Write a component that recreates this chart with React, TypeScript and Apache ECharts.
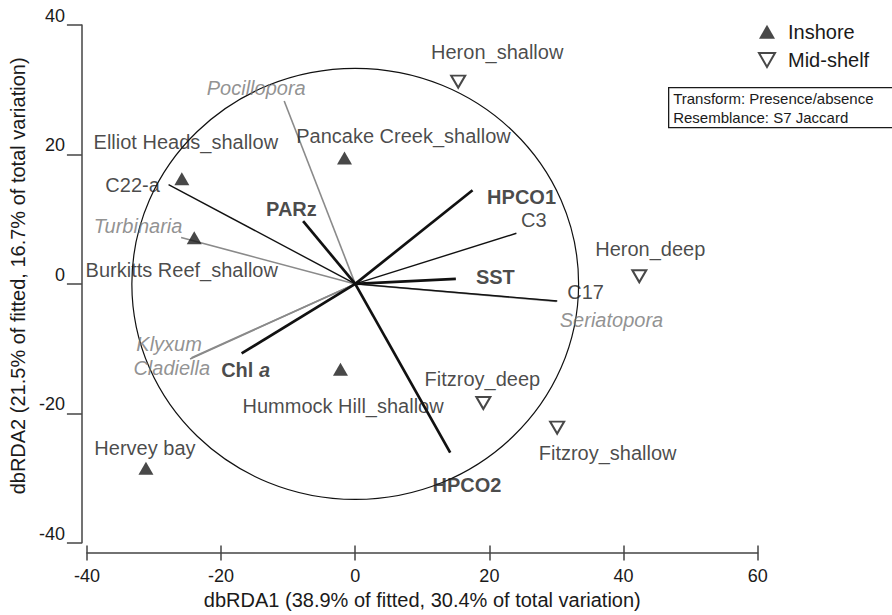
import React, { useEffect, useRef } from "react";
import * as echarts from "echarts";

// ---- axis ----
const X_MIN = -40;
const X_MAX = 60;
const Y_MIN = -40;
const Y_MAX = 40;
const TICK_STEP = 20;
const X_TITLE = "dbRDA1 (38.9% of fitted, 30.4% of total variation)";
const Y_TITLE = "dbRDA2 (21.5% of fitted, 16.7% of total variation)";

// ---- sites ----
const inshoreNames = [
  "Elliot Heads_shallow",
  "Burkitts Reef_shallow",
  "Pancake Creek_shallow",
  "Hummock Hill_shallow",
  "Hervey bay",
];
const inshoreX = [-25.85, -24.0, -1.6, -2.2, -31.2];
const inshoreY = [16.26, 7.14, 19.45, -13.2, -28.5];

const midshelfNames = ["Heron_shallow", "Heron_deep", "Fitzroy_deep", "Fitzroy_shallow"];
const midshelfX = [15.35, 42.35, 19.1, 30.1];
const midshelfY = [31.26, 1.18, -18.4, -22.2];

// ---- vectors (environmental predictors) ----
const predictorNames = ["PARz", "HPCO1", "SST", "HPCO2", "Chl a"];
const predictorX = [-7.77, 17.49, 15.0, 14.16, -16.94];
const predictorY = [9.71, 14.46, 0.77, -26.07, -10.74];

// ---- vectors (symbiont types) ----
const otuNames = ["C22-a", "C3", "C17"];
const otuX = [-27.83, 24.03, 30.12];
const otuY = [15.34, 7.82, -2.65];

// ---- vectors (host taxa) ----
const taxonNames = ["Pocillopora", "Turbinaria", "Klyxum", "Cladiella", "Seriatopora"];
const taxonX = [-10.59, -25.96, -24.62, -24.4, 30.0];
const taxonY = [28.27, 7.16, -11.61, -11.4, -2.7];

// correlation circle radius (data units)
const circleRadius = 33.3;

const legendNames = ["Inshore", "Mid-shelf"];
const boxLines = ["Transform: Presence/absence", "Resemblance: S7 Jaccard"];

// label placement (pixels, relative to the mark)
const siteLabelOffsets: Record<string, [number, number]> = {
  "Elliot Heads_shallow": [4, -37],
  "Burkitts Reef_shallow": [-12.5, 32],
  "Pancake Creek_shallow": [59, -22.5],
  "Hummock Hill_shallow": [2.6, 37],
  "Hervey bay": [-1, -20],
  Heron_shallow: [39, -30],
  Heron_deep: [11, -27],
  Fitzroy_deep: [-1, -24],
  Fitzroy_shallow: [50.5, 25.3],
};
const vectorLabelOffsets: Record<string, [number, number]> = {
  "C22-a": [-36, 0.7],
  Turbinaria: [-43, -12],
  Pocillopora: [-28, -12.7],
  PARz: [-11.7, -12.4],
  HPCO1: [49, 6.6],
  C3: [17.3, -13],
  SST: [39.5, -1.7],
  C17: [28.3, -9.3],
  Seriatopora: [55, 18.7],
  HPCO2: [16.7, 32.3],
  Klyxum: [-21, -15.4],
  Cladiella: [-19.8, 10],
  "Chl a": [4, 17],
};

const FONT = "'Liberation Sans', Arial, sans-serif";
const INK = "#1a1a1a";
const GREY = "#767676";

function zip(names: string[], xs: number[], ys: number[]) {
  return names.map((n, i) => [xs[i], ys[i], n]);
}

function vectorSeries(names: string[], xs: number[], ys: number[], color: string, width: number) {
  return {
    type: "custom",
    silent: true,
    clip: false,
    encode: { x: 0, y: 1 },
    data: zip(names, xs, ys),
    renderItem: (_params: any, api: any) => {
      const p0 = api.coord([0, 0]);
      const p1 = api.coord([api.value(0), api.value(1)]);
      return {
        type: "line",
        shape: { x1: p0[0], y1: p0[1], x2: p1[0], y2: p1[1] },
        style: { stroke: color, lineWidth: width },
      };
    },
    z: 3,
  };
}

function vectorLabelSeries(
  names: string[],
  xs: number[],
  ys: number[],
  color: string,
  weight: string,
  style: string
) {
  return {
    type: "scatter",
    silent: true,
    symbolSize: 0.1,
    itemStyle: { color: "transparent" },
    data: names.map((n, i) => ({
      name: n,
      value: [xs[i], ys[i]],
      label: { offset: vectorLabelOffsets[n] },
    })),
    label: {
      show: true,
      position: "inside",
      align: "center",
      verticalAlign: "middle",
      color,
      textBorderWidth: 0,
      fontSize: 20,
      fontWeight: weight,
      fontStyle: style,
      fontFamily: FONT,
      formatter: (p: any) => (p.name === "Chl a" ? "{n|Chl} {i|a}" : p.name),
      rich: {
        n: { fontSize: 20, fontWeight: "bold", fontFamily: FONT, color, textBorderWidth: 0 },
        i: {
          fontSize: 20,
          fontWeight: "bold",
          fontStyle: "italic",
          fontFamily: FONT,
          color,
          textBorderWidth: 0,
        },
      },
    },
    z: 6,
  };
}

function siteSeries(name: string, names: string[], xs: number[], ys: number[], open: boolean) {
  return {
    name,
    type: "scatter",
    silent: true,
    symbol: "triangle",
    symbolRotate: open ? 180 : 0,
    symbolSize: open ? [14, 12] : [15, 13],
    itemStyle: open
      ? { color: "#ffffff", borderColor: INK, borderWidth: 2 }
      : { color: INK },
    data: names.map((n, i) => ({
      name: n,
      value: [xs[i], ys[i]],
      label: { offset: siteLabelOffsets[n] },
    })),
    label: {
      show: true,
      position: "inside",
      align: "center",
      verticalAlign: "middle",
      color: INK,
      textBorderWidth: 0,
      fontSize: 20,
      fontFamily: FONT,
      formatter: "{b}",
    },
    z: 5,
  };
}

export default function App() {
  const ref = useRef<HTMLDivElement>(null);

  useEffect(() => {
    if (!ref.current) return;
    const chart = echarts.init(ref.current, undefined, { renderer: "svg" });

    const axisLineStyle = { color: "#444", width: 1.5 };

    const option: any = {
      animation: false,
      backgroundColor: "#ffffff",
      grid: { left: 85, right: 134.3, top: 25, bottom: 68.3, containLabel: false },
      xAxis: [
        {
          type: "value",
          min: X_MIN,
          max: X_MAX,
          interval: TICK_STEP,
          position: "bottom",
          offset: 10.3,
          axisLine: { show: true, onZero: false, lineStyle: axisLineStyle },
          axisTick: { show: true, inside: false, length: 7.5, lineStyle: axisLineStyle },
          axisLabel: { show: true, margin: 14, fontSize: 18, color: INK, fontFamily: FONT },
          splitLine: { show: false },
          name: X_TITLE,
          nameLocation: "middle",
          nameGap: 33,
          nameTextStyle: { fontSize: 20, color: INK, fontFamily: FONT },
        },
        {
          type: "value",
          min: X_MIN,
          max: X_MAX,
          interval: TICK_STEP,
          position: "bottom",
          offset: 10.3,
          axisLine: { show: false, onZero: false },
          axisTick: { show: true, inside: true, length: 7.5, lineStyle: axisLineStyle },
          axisLabel: { show: false },
          splitLine: { show: false },
        },
      ],
      yAxis: {
        type: "value",
        min: Y_MIN,
        max: Y_MAX,
        interval: TICK_STEP,
        position: "left",
        offset: 5,
        axisLine: { show: true, onZero: false, lineStyle: axisLineStyle },
        axisTick: { show: true, inside: false, length: 15, lineStyle: axisLineStyle },
        axisLabel: {
          show: true,
          margin: 17,
          fontSize: 18,
          color: INK,
          fontFamily: FONT,
          verticalAlign: "bottom",
        },
        splitLine: { show: false },
        name: Y_TITLE,
        nameLocation: "middle",
        nameGap: 48,
        nameTextStyle: { fontSize: 20, color: INK, fontFamily: FONT, padding: [0, 0, 0, 16] },
      },
      legend: {
        show: true,
        orient: "vertical",
        left: 758,
        top: 21.7,
        padding: 0,
        itemWidth: 16,
        itemHeight: 14,
        itemGap: 8.3,
        selectedMode: false,
        textStyle: { fontSize: 20, color: INK, fontFamily: FONT, lineHeight: 20, padding: [0, 0, 0, 8] },
        data: [
          { name: legendNames[0], icon: "triangle", itemStyle: { color: INK } },
          {
            name: legendNames[1],
            icon: "path://M0,0L16,0L8,14Z",
            itemStyle: { color: "#ffffff", borderColor: INK, borderWidth: 2 },
          },
        ],
      },
      graphic: [
        {
          type: "group",
          left: 668,
          top: 87,
          children: [
            {
              type: "rect",
              shape: { x: 0.5, y: 0.5, width: 240, height: 40 },
              style: { fill: "#ffffff", stroke: INK, lineWidth: 1.3 },
            },
            {
              type: "text",
              x: 5,
              y: 11,
              style: {
                text: boxLines[0],
                fontSize: 15,
                fontFamily: FONT,
                fill: INK,
                verticalAlign: "middle",
              },
            },
            {
              type: "text",
              x: 5,
              y: 30,
              style: {
                text: boxLines[1],
                fontSize: 15,
                fontFamily: FONT,
                fill: INK,
                verticalAlign: "middle",
              },
            },
          ],
        },
      ],
      series: [
        {
          type: "custom",
          silent: true,
          clip: false,
          encode: { x: 0, y: 1 },
          data: [[0, 0]],
          renderItem: (_params: any, api: any) => {
            const c = api.coord([0, 0]);
            const s = api.size([circleRadius, circleRadius]);
            return {
              type: "ellipse",
              shape: { cx: c[0], cy: c[1], rx: s[0], ry: s[1] },
              style: { fill: "none", stroke: "#111", lineWidth: 1.2 },
            };
          },
          z: 2,
        },
        vectorSeries(taxonNames, taxonX, taxonY, "#8a8a8a", 1.6),
        vectorSeries(otuNames, otuX, otuY, "#111", 1.4),
        vectorSeries(predictorNames, predictorX, predictorY, "#111", 2.7),
        vectorLabelSeries(taxonNames, taxonX, taxonY, GREY, "normal", "italic"),
        vectorLabelSeries(otuNames, otuX, otuY, INK, "normal", "normal"),
        vectorLabelSeries(predictorNames, predictorX, predictorY, INK, "bold", "normal"),
        siteSeries(legendNames[0], inshoreNames, inshoreX, inshoreY, false),
        siteSeries(legendNames[1], midshelfNames, midshelfX, midshelfY, true),
      ],
    };

    chart.setOption(option);
    return () => chart.dispose();
  }, []);

  return (
    <div
      ref={ref}
      style={{ position: "fixed", left: 0, top: 0, width: 892, height: 615, background: "#fff" }}
    />
  );
}
